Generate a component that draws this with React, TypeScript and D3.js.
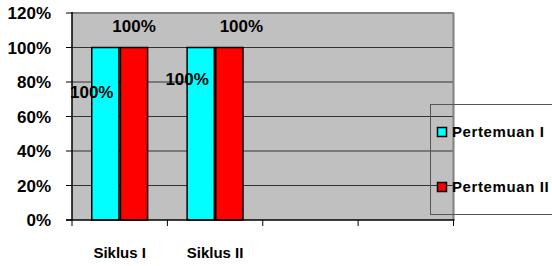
import React from "react";
import * as d3 from "d3";

const categories = ["Siklus I", "Siklus II", "", ""];
const seriesNames = ["Pertemuan I", "Pertemuan II"];
const seriesColors = ["#00FFFF", "#FF0000"];
const pertemuanI = [1.0, 1.0, null, null];
const pertemuanII = [1.0, 1.0, null, null];
const yTicks = [0, 0.2, 0.4, 0.6, 0.8, 1.0, 1.2];

export default function App() {
  const W = 552, H = 266;
  const left = 72, right = 453.5, top = 13, bottom = 220;
  const x = d3.scaleBand().domain(categories.map((c, i) => String(i))).range([left, right]);
  const y = d3.scaleLinear().domain([0, 1.2]).range([bottom, top]);
  const bw = x.bandwidth();
  const barW = bw * 0.285;
  const gap = 1.5;
  const font = "'Liberation Sans', Arial, sans-serif";
  const series = [pertemuanI, pertemuanII];
  const labelOffsets = [
    [{ dx: 0, y: 0.742 }, { dx: 0, y: 1.125 }],
    [{ dx: 0, y: 0.817 }, { dx: 12, y: 1.125 }],
  ];
  return (
    <svg width={W} height={H} style={{ position: "absolute", left: 0, top: 0, fontFamily: font }}>
      <rect x={0} y={0} width={W} height={H} fill="#fff" />
      <rect x={left} y={top} width={right - left} height={bottom - top} fill="#C0C0C0" />
      {yTicks.slice(1).map((t) => (
        <line key={t} x1={left} x2={right} y1={y(t)} y2={y(t)} stroke="#333" strokeWidth={1} />
      ))}
      <line x1={left} x2={right} y1={top} y2={top} stroke="#808080" strokeWidth={2} />
      <line x1={right} x2={right} y1={top} y2={bottom} stroke="#808080" strokeWidth={2} />
      {categories.map((c, i) =>
        series.map((s, j) => {
          const v = s[i];
          if (v == null) return null;
          const cx = (x(String(i)) as number) + bw / 2;
          const bx = j === 0 ? cx - gap / 2 - barW : cx + gap / 2;
          return (
            <rect key={`${i}-${j}`} x={bx} y={y(v)} width={barW} height={bottom - y(v)}
              fill={seriesColors[j]} stroke="#000" strokeWidth={1.5} />
          );
        })
      )}
      {/* axes */}
      <line x1={left} x2={left} y1={top - 1} y2={bottom} stroke="#000" strokeWidth={1.5} />
      <line x1={left - 6} x2={right + 1} y1={bottom} y2={bottom} stroke="#000" strokeWidth={1.5} />
      {yTicks.map((t) => (
        <g key={t}>
          <line x1={left - 6} x2={left} y1={y(t)} y2={y(t)} stroke="#000" strokeWidth={1} />
          <text x={51} y={y(t)} dy="0.36em" textAnchor="end" fontSize={17} fontWeight="bold">
            {d3.format(".0%")(t)}
          </text>
        </g>
      ))}
      {categories.map((c, i) => (
        <line key={"xt" + i} x1={x(String(i))} x2={x(String(i))} y1={bottom} y2={bottom + 6} stroke="#000" strokeWidth={1} />
      ))}
      <line x1={right} x2={right} y1={bottom} y2={bottom + 6} stroke="#000" strokeWidth={1} />
      {categories.map((c, i) => (
        <text key={"xl" + i} x={(x(String(i)) as number) + bw / 2} y={258} textAnchor="middle"
          fontSize={15} fontWeight="bold">
          {c}
        </text>
      ))}
      {/* data labels */}
      {categories.map((c, i) =>
        series.map((s, j) => {
          const v = s[i];
          if (v == null) return null;
          const cx = (x(String(i)) as number) + bw / 2;
          const lx = j === 0 ? cx - gap / 2 - barW : cx + gap / 2 + barW / 2;
          const o = labelOffsets[i][j];
          return (
            <text key={`l${i}-${j}`} x={lx + o.dx} y={y(o.y * v)} dy="0.36em" textAnchor="middle"
              fontSize={17} fontWeight="bold">
              {d3.format(".0%")(v)}
            </text>
          );
        })
      )}
      {/* legend */}
      <rect x={430.5} y={104.5} width={140} height={110} fill="none" stroke="#555" strokeWidth={1} />
      {seriesNames.map((n, j) => (
        <g key={n}>
          <rect x={437.5} y={(j === 0 ? 132 : 187) - 4.5} width={9} height={9} fill={seriesColors[j]} stroke="#000" strokeWidth={1.5} />
          <text x={452} y={j === 0 ? 132 : 187} dy="0.36em" fontSize={15} fontWeight="bold" letterSpacing={0.6}>
            {n}
          </text>
        </g>
      ))}
    </svg>
  );
}
